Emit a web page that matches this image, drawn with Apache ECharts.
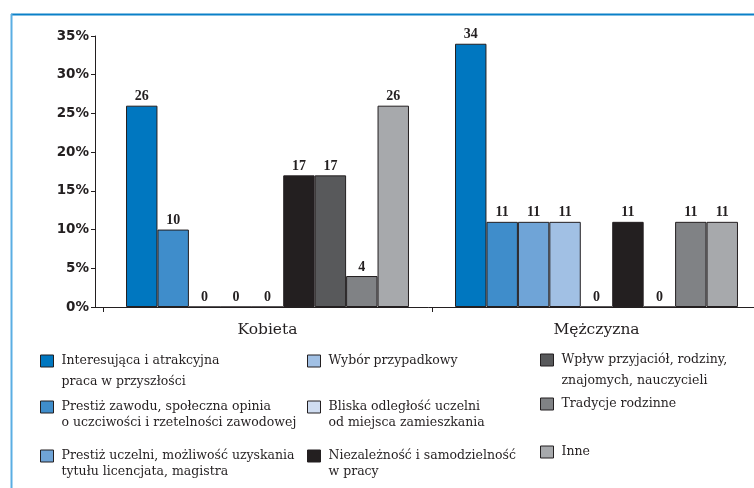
<!DOCTYPE html>
<html>
<head>
<meta charset="utf-8">
<script src="https://cdn.jsdelivr.net/npm/echarts@6/dist/echarts.min.js"></script>
<style>
html,body{margin:0;padding:0;background:#fff;}
#chart{width:754px;height:488px;}
</style>
</head>
<body>
<div id="chart"></div>
<script>
const categories = ['Kobieta', 'Mężczyzna'];
const seriesNames = [
  'Interesująca i atrakcyjna\npraca w przyszłości',
  'Prestiż zawodu, społeczna opinia\no uczciwości i rzetelności zawodowej',
  'Prestiż uczelni, możliwość uzyskania\ntytułu licencjata, magistra',
  'Wybór przypadkowy',
  'Bliska odległość uczelni\nod miejsca zamieszkania',
  'Niezależność i samodzielność\nw pracy',
  'Wpływ przyjaciół, rodziny,\nznajomych, nauczycieli',
  'Tradycje rodzinne',
  'Inne'
];
const kobietaValues   = [26, 10, 0, 0, 0, 17, 17, 4, 26];
const mezczyznaValues = [34, 11, 11, 11, 0, 11, 0, 11, 11];
const seriesColors = ['#0077c0', '#3f8dcb', '#6fa4d7', '#a1c0e4', '#d0ddf1', '#231f20', '#58595b', '#808285', '#a7a9ac'];

// legend layout: [left, markerTop, lineHeight]
const legendPos = [
  [40, 355, 21], [40, 401, 16], [40, 450, 16],
  [307, 355, 21], [307, 401, 16], [307, 450, 16],
  [540, 354, 21], [540, 398, 16], [540, 446, 16]
];

const ink = '#231f20';

const series = seriesNames.map((name, i) => ({
  name: name,
  type: 'bar',
  data: [kobietaValues[i], mezczyznaValues[i]],
  barGap: 0,
  barCategoryGap: '14%',
  itemStyle: { color: seriesColors[i], borderColor: ink, borderWidth: 1 },
  label: {
    show: true, position: 'top', distance: 2,
    fontFamily: 'Liberation Serif', fontWeight: 'bold', fontSize: 14, color: ink
  }
}));

const legends = seriesNames.map((name, i) => {
  const twoLine = name.indexOf('\n') >= 0;
  const [left, markerTop, LH] = legendPos[i];
  const top = twoLine ? markerTop + 6 - (LH * 3) / 2 : markerTop + 6 - LH / 2;
  return {
    data: [name],
    left: left, top: top,
    padding: 0,
    itemWidth: 13, itemHeight: 12,
    icon: 'rect',
    selectedMode: false,
    formatter: twoLine ? function (n) { return '\n' + n; } : '{name}',
    itemStyle: { borderColor: ink, borderWidth: 1 },
    textStyle: {
      fontFamily: 'DejaVu Serif', fontSize: 12.5, color: ink, lineHeight: LH,
      padding: [0, 0, 0, 3]
    }
  };
});

const chart = echarts.init(document.getElementById('chart'), null, { renderer: 'canvas' });
chart.setOption({
  animation: false,
  backgroundColor: '#ffffff',
  grid: { left: 103, top: 36, width: 658, height: 271, containLabel: false, outerBoundsMode: 'none' },
  xAxis: {
    type: 'category',
    data: categories,
    axisLine: { show: true, lineStyle: { color: ink, width: 1 } },
    axisTick: { show: true, length: 5, lineStyle: { color: ink } },
    axisLabel: { margin: 15, fontFamily: 'DejaVu Serif', fontSize: 15.5, color: ink }
  },
  yAxis: {
    type: 'value',
    min: 0, max: 35, interval: 5,
    offset: 8,
    axisLine: { show: true, lineStyle: { color: ink, width: 1 } },
    axisTick: { show: true, length: 4, lineStyle: { color: ink } },
    splitLine: { show: false },
    axisLabel: {
      formatter: '{value}%', margin: 6,
      fontFamily: 'DejaVu Sans', fontWeight: 'bold', fontSize: 13.5, color: ink
    }
  },
  legend: legends,
  series: series,
  graphic: [
    { type: 'line', shape: { x1: 11, y1: 14.5, x2: 754, y2: 14.5 }, style: { stroke: '#0a80c8', lineWidth: 2 }, silent: true },
    { type: 'line', shape: { x1: 11.5, y1: 14, x2: 11.5, y2: 488 }, style: { stroke: '#5aaee3', lineWidth: 2 }, silent: true },
    { type: 'line', shape: { x1: 95, y1: 307.5, x2: 104, y2: 307.5 }, style: { stroke: ink, lineWidth: 1 }, silent: true }
  ]
});
</script>
</body>
</html>
